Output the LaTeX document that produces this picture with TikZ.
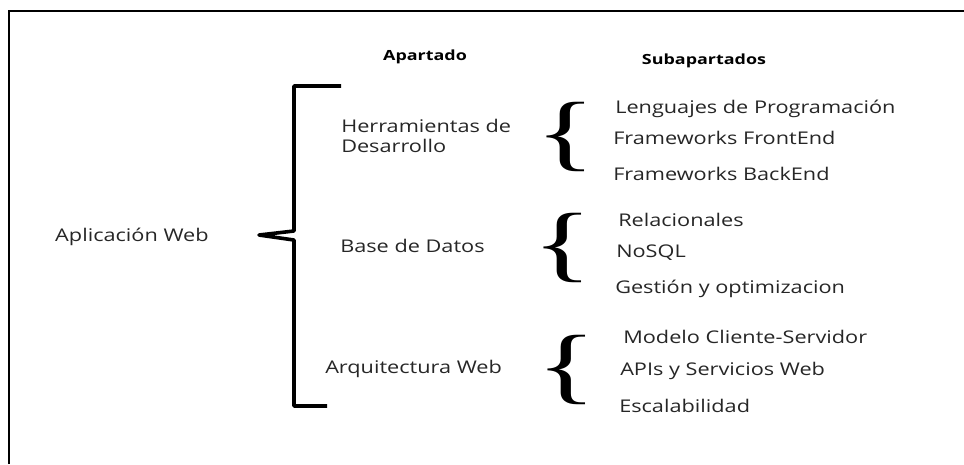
\documentclass[tikz,border=0pt]{standalone}
\usepackage{fontspec}
\setmainfont{Open Sans}
\newfontfamily\bracefont{Liberation Serif}
\usepackage{tikz}
\usetikzlibrary{positioning}

\begin{document}
\begin{tikzpicture}[x=1pt,y=-1pt,
    head/.style = {font=\bfseries\fontsize{14}{16}\selectfont,inner sep=0pt,anchor=base,xscale=1.28},
    item/.style = {font=\fontsize{17.5}{20}\selectfont,inner sep=0pt,anchor=base west,text=black!85,xscale=1.24},
    curly/.style = {font=\bracefont\fontsize{84}{84}\selectfont,inner sep=0pt,xscale=1.5},
    frame/.style = {line width=1.6pt},
    bracket/.style = {line width=3.6pt,line join=round}]
      \useasboundingbox (0,0) rectangle (964,464);
      \draw[frame] (9,464) -- (9,11) -- (964,11);
      % headers
      \node[head] (h1) at (425,60) {Apartado};
      \node[head] (h2) at (704,64) {Subapartados};
      % root
      \node[item] (app) at (55,241) {Aplicación Web};
      % big bracket
      \coordinate (top) at (341,86);
      \coordinate (bot) at (327,406);
      \coordinate (tip) at (259,235);
      \draw[bracket] (top) -- (294,86) -- (294,231) -- (tip) -- (294,240) -- (294,406) -- (bot);
      % apartados
      \node[item] (herr) at (341,132) {Herramientas de};
      \node[item] (desa) at (341,152) {Desarrollo};
      \node[item] (base) at (340,252) {Base de Datos};
      \node[item] (arq) at (325,373) {Arquitectura Web};
      % braces
      \node[curly] (c1) at (566,137) {\{};
      \node[curly] (c2) at (563,248) {\{};
      \node[curly] (c3) at (567,370) {\{};
      % subapartados
      \node[item] (s1) at (615,113) {Lenguajes de Programación};
      \node[item] (s2) at (613,144) {Frameworks FrontEnd};
      \node[item] (s3) at (613,180) {Frameworks BackEnd};
      \node[item] (s4) at (618,226) {Relacionales};
      \node[item] (s5) at (616,257) {NoSQL};
      \node[item] (s6) at (615,293) {Gestión y optimizacion};
      \node[item] (s7) at (623,343) {Modelo Cliente-Servidor};
      \node[item] (s8) at (620,375) {APIs y Servicios Web};
      \node[item] (s9) at (619,412) {Escalabilidad};
\end{tikzpicture}
\end{document}
